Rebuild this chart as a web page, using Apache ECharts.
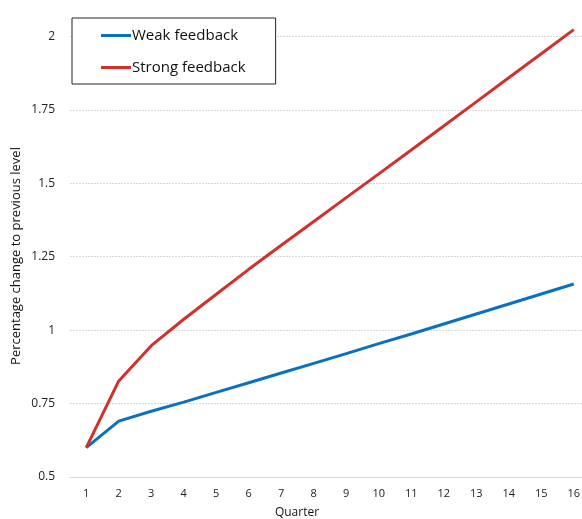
<!DOCTYPE html>
<html>
<head>
<meta charset="utf-8">
<script src="https://cdn.jsdelivr.net/npm/echarts@6/dist/echarts.min.js"></script>
<style>
  html, body { margin: 0; padding: 0; background: #fff; }
  #chart { width: 582px; height: 519px; }
</style>
</head>
<body>
<div id="chart"></div>
<script>
// Quarters 1..16 on the category axis.
const quarters = ['1', '2', '3', '4', '5', '6', '7', '8', '9', '10', '11', '12', '13', '14', '15', '16'];
// (percentage change to previous level).
const weakFeedback = [0.60, 0.690, 0.724, 0.755, 0.788, 0.821, 0.854, 0.887, 0.920, 0.954, 0.987, 1.021, 1.055, 1.089, 1.123, 1.157];
const strongFeedback = [0.60, 0.827, 0.947, 1.037, 1.122, 1.207, 1.289, 1.370, 1.451, 1.532, 1.613, 1.695, 1.777, 1.859, 1.941, 2.023];
const seriesNames = ['Weak feedback', 'Strong feedback'];
const seriesColors = ['#0a70c0', '#d0312d'];

const FONT = '"Open Sans", "DejaVu Sans", sans-serif';

const chart = echarts.init(document.getElementById('chart'), null, { renderer: 'canvas' });

const mkLine = (name, data, color) => ({
  name, type: 'line', data,
  showSymbol: false, symbol: 'none',
  lineStyle: { color, width: 3 },
  itemStyle: { color },
  z: 3,
});

chart.setOption({
  animation: false,
  backgroundColor: '#fff',
  // plot runs a little past the right edge, like the cropped original;
  // outerBoundsMode off so v6 doesn't squeeze the grid back in
  grid: { left: 70, right: -8, top: 7, bottom: 42, outerBoundsMode: 'none' },
  legend: {
    left: 72, top: 18, orient: 'vertical',
    backgroundColor: '#fff',
    borderColor: '#222', borderWidth: 1,
    padding: [10, 30, 9, 29],
    itemGap: 17,
    icon: 'rect', itemWidth: 30, itemHeight: 3,
    textStyle: { fontFamily: FONT, fontSize: 15, color: '#111', padding: [0, 0, 0, -4] },
    data: seriesNames,
  },
  xAxis: {
    type: 'category', data: quarters, boundaryGap: true,
    axisLine: { lineStyle: { color: '#d9d9d9', width: 1 } },
    axisTick: { show: false },
    axisLabel: { fontFamily: FONT, fontSize: 11, color: '#222', margin: 11 },
  },
  yAxis: {
    type: 'value', min: 0.5, max: 2.1, interval: 0.25,
    axisLine: { show: false }, axisTick: { show: false },
    axisLabel: { fontFamily: FONT, fontSize: 12, color: '#222', margin: 15, showMaxLabel: false },
    splitLine: { showMaxLine: false, lineStyle: { color: '#d9d9d9', type: [2, 1], width: 1 } },
  },
  graphic: [
    {
      type: 'text', x: 16, y: 256, rotation: Math.PI / 2,
      style: { text: 'Percentage change to previous level', fontFamily: FONT, fontSize: 13, fill: '#111', align: 'center', verticalAlign: 'middle' },
    },
    {
      type: 'text', x: 297, y: 513,
      style: { text: 'Quarter', fontFamily: FONT, fontSize: 12, fill: '#111', align: 'center', verticalAlign: 'middle' },
    },
  ],
  series: [
    mkLine(seriesNames[0], weakFeedback, seriesColors[0]),
    mkLine(seriesNames[1], strongFeedback, seriesColors[1]),
  ],
});
</script>
</body>
</html>
